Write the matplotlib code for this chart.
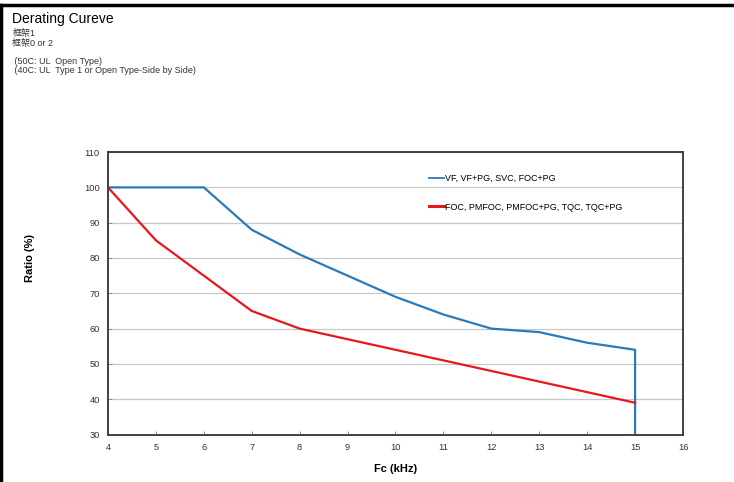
import matplotlib
matplotlib.use('Agg')
import matplotlib.pyplot as plt
from matplotlib.lines import Line2D

# Datos
fc_khz = [4, 5, 6, 7, 8, 9, 10, 11, 12, 13, 14, 15, 15]
ratio_vf = [100, 100, 100, 88, 81, 75, 69, 64, 60, 59, 56, 54, 30]
fc_khz_foc = [4, 5, 6, 7, 8, 9, 10, 11, 12, 13, 14, 15]
ratio_foc = [100, 85, 75, 65, 60, 57, 54, 51, 48, 45, 42, 39]

label_vf = 'VF, VF+PG, SVC, FOC+PG'
label_foc = 'FOC, PMFOC, PMFOC+PG, TQC, TQC+PG'
header_lines = ['框架1', '框架0 or 2', ' (50C: UL  Open Type)', ' (40C: UL  Type 1 or Open Type-Side by Side)']

plt.rcParams['font.family'] = ['Liberation Sans', 'Noto Sans CJK TC', 'DejaVu Sans']

fig = plt.figure(figsize=(7.34, 4.82), dpi=100)
ax = fig.add_axes([0.1471, 0.0985, 0.7834, 0.586])

ax.plot(fc_khz, ratio_vf, color='#2a7ab9', lw=1.6, label=label_vf)
ax.plot(fc_khz_foc, ratio_foc, color='#e8171b', lw=1.6, label=label_foc)

ax.set_xlim(4, 16)
ax.set_ylim(30, 110)
ax.set_xticks(range(4, 17))
ax.set_yticks(range(30, 111, 10))
ax.grid(axis='y', color='#c8c8c8', lw=0.9)
ax.set_axisbelow(True)
ax.tick_params(direction='in', length=3, width=0.6, color='#808080',
               labelsize=6.7, labelcolor='#333333', pad=6)
for s in ax.spines.values():
    s.set_color('#404040')
    s.set_linewidth(1.4)

ax.set_xlabel('Fc (kHz)', fontsize=8, fontweight='bold', labelpad=9)
ax.set_ylabel('Ratio (%)', fontsize=8, fontweight='bold')
ax.yaxis.set_label_coords(-0.127, 0.625)

ax.legend(handles=[Line2D([], [], color='#2a7ab9', lw=1.3),
                   Line2D([], [], color='#e8171b', lw=2.2)],
          labels=[label_vf, label_foc],
          loc='upper left', bbox_to_anchor=(0.545, 0.952), frameon=False,
          fontsize=6.5, handlelength=1.6, handletextpad=0.1, labelspacing=2.2)

fig.text(0.017, 0.96, 'Derating Cureve', fontsize=10, va='center')
ys = [0.93, 0.91, 0.873, 0.853]
for y, t in zip(ys, header_lines):
    fig.text(0.017, y, t, fontsize=6.5, va='center', color='#333333')

# marco de la imagen (arriba e izquierda)
fig.add_artist(Line2D([0.002, 1], [0.99, 0.99], color='black', lw=2.5, transform=fig.transFigure))
fig.add_artist(Line2D([0.002, 0.002], [0, 0.99], color='black', lw=2.5, transform=fig.transFigure))

fig.savefig('out.png', dpi=100)
